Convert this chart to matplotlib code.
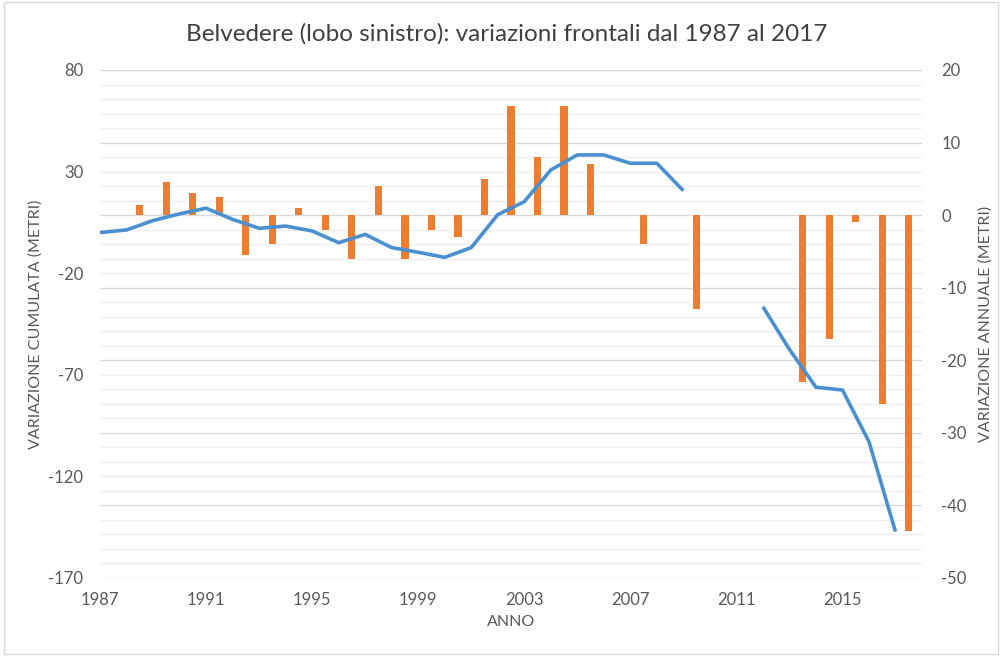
import numpy as np
import matplotlib
matplotlib.use("Agg")
import matplotlib.pyplot as plt
from matplotlib.patches import Rectangle

plt.rcParams['font.family'] = ['Lato', 'DejaVu Sans']
plt.rcParams['axes.unicode_minus'] = False

# cumulative frontal variation (left axis), NaN = no data
line_years = list(range(1987, 2018))
cumulata = [0, 1.3, 5.9, 9.2, 12.0, 6.5, 2.1, 3.2, 0.8, -5.0,
            -0.9, -7.4, -9.7, -12.2, -7.4, 8.8, 15.2, 30.8, 38.2, 38.2,
            34.1, 34.1, 20.6, np.nan, np.nan, -36.5, -57.5, -76.1, -77.5, -102.9,
            -147.2]

# annual variation (right axis)
bar_years = list(range(1988, 2018))
annuale = [1.4, 4.5, 3.0, 2.5, -5.5, -4.0, 1.0, -2.0, -6.0, 4.0,
           -6.0, -2.0, -3.0, 5.0, 15.0, 8.0, 15.0, 7.0, 0, -4.0,
           0, -13.0, np.nan, np.nan, np.nan, -23.0, -17.0, -1.0, -26.0, -43.5]

x_ticks = [1987, 1991, 1995, 1999, 2003, 2007, 2011, 2015]
left_ticks = [80, 30, -20, -70, -120, -170]
right_ticks = [20, 10, 0, -10, -20, -30, -40, -50]

grey = '#595959'
fig = plt.figure(figsize=(10.02, 6.56), dpi=100)
fig.patches.append(Rectangle((0.004, 0.003), 0.992, 0.994, transform=fig.transFigure,
                             fill=False, edgecolor='#d9d9d9', linewidth=1))

ax = fig.add_axes([100/1002, 78/656, 822/1002, 508/656])
ax2 = ax.twinx()

# grid drawn on the right-hand axis scale
for v in np.arange(-50, 21, 2):
    major = v % 10 == 0
    ax2.axhline(v, color='#d9d9d9' if major else '#efefef',
                linewidth=1.0, zorder=0)

ax2.bar(np.array(bar_years) + 0.5, annuale, width=0.27, color='#ED7D31', zorder=2)
ax.plot(line_years, cumulata, color='#4A90D0', linewidth=2.6, zorder=3,
        solid_capstyle='butt')

ax.set_zorder(ax2.get_zorder() + 1)
ax.patch.set_visible(False)

ax.set_xlim(1987, 2018)
ax.set_ylim(-170, 80)
ax2.set_ylim(-50, 20)
ax.set_xticks(x_ticks)
ax.set_yticks(left_ticks)
ax2.set_yticks(right_ticks)

for a in (ax, ax2):
    for s in a.spines.values():
        s.set_visible(False)
    a.tick_params(length=0, colors=grey, labelsize=12)
ax.tick_params(axis='y', pad=12)
ax2.tick_params(axis='y', pad=14)
ax.tick_params(axis='x', pad=10)

ax.set_xlabel('ANNO', color=grey, fontsize=11.5, labelpad=5)
ax.set_ylabel('VARIAZIONE CUMULATA (METRI)', color=grey, fontsize=11.5, labelpad=4)
ax2.set_ylabel('VARIAZIONE ANNUALE (METRI)', color=grey, fontsize=11.5, labelpad=8)

fig.text(0.506, 0.948, 'Belvedere (lobo sinistro): variazioni frontali dal 1987 al 2017',
         ha='center', va='center', fontsize=17.5, color='#404040')

fig.savefig('out.png', dpi=100)
